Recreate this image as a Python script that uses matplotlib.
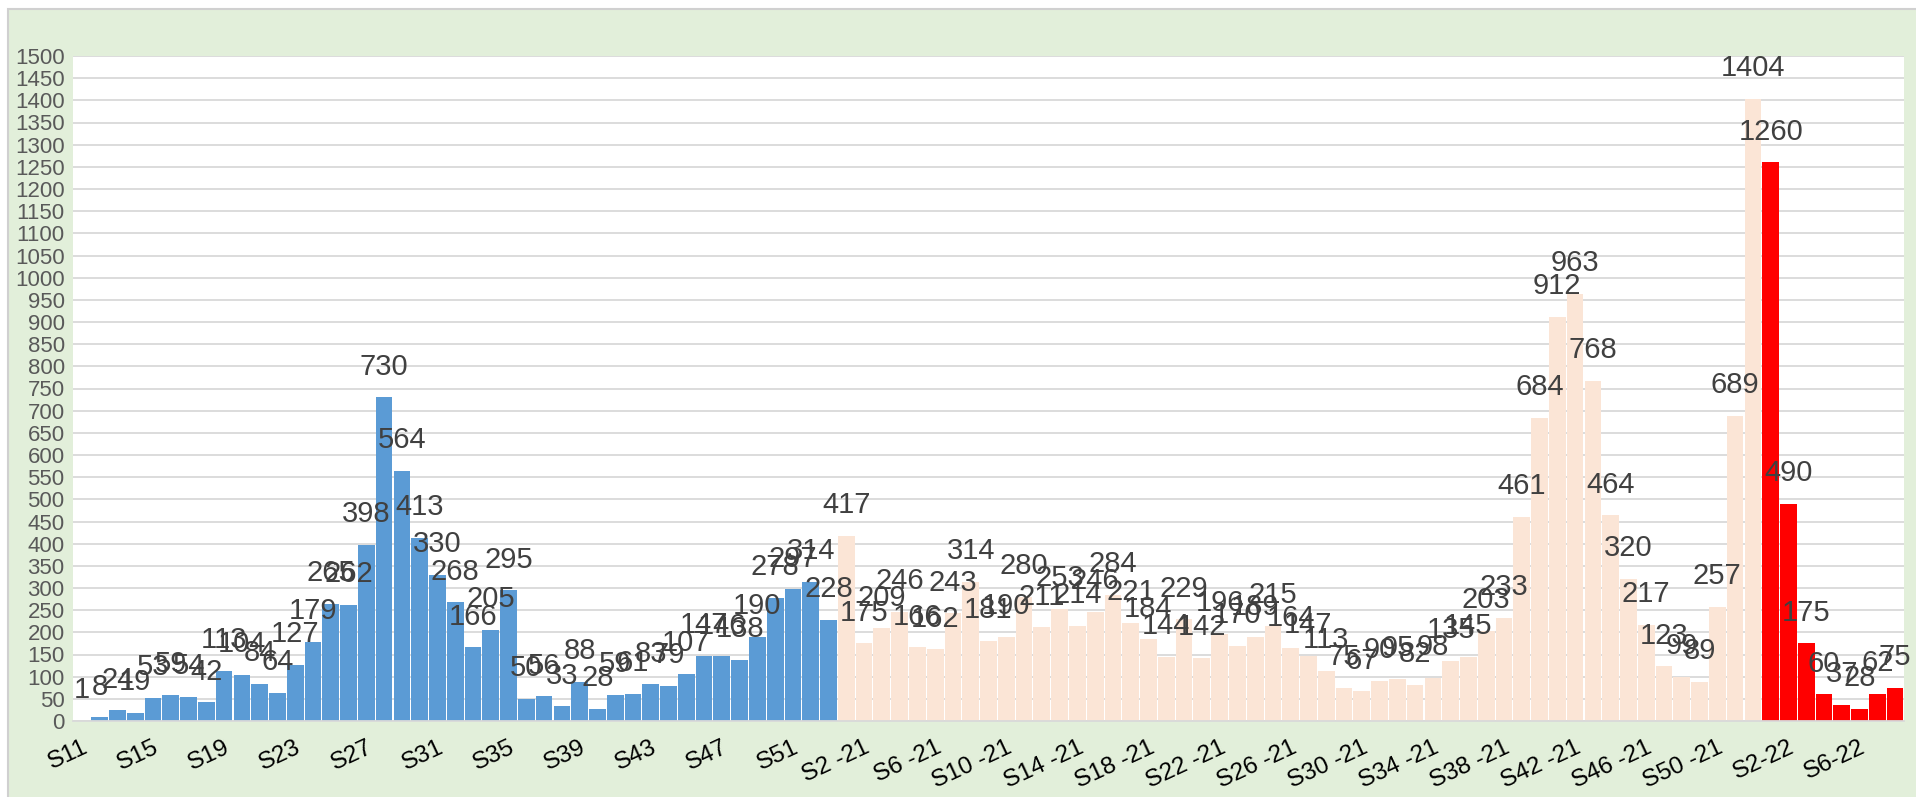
import matplotlib
matplotlib.use("Agg")
import matplotlib.pyplot as plt
from matplotlib.patches import Rectangle
import numpy as np

# weekly counts
weeks_2020 = ["S%d" % w for w in range(11, 54)]
vals_2020 = [1, 8, 24, 19, 53, 59, 54, 42, 113, 104, 84, 64, 127, 179, 265, 262,
             398, 730, 564, 413, 330, 268, 166, 205, 295, 50, 56, 33, 88, 28, 59, 61,
             83, 79, 107, 147, 146, 138, 190, 278, 297, 314, 228]

weeks_2021 = ["S%d -21" % w for w in range(1, 53)]
vals_2021 = [417, 175, 209, 246, 166, 162, 243, 314, 181, 190, 280, 211, 253, 214,
             246, 284, 221, 184, 144, 229, 142, 196, 170, 189, 215, 164, 147, 113,
             75, 67, 90, 95, 82, 98, 135, 145, 203, 233, 461, 684, 912, 963, 768,
             464, 320, 217, 123, 99, 89, 257, 689, 1404]

weeks_2022 = ["S%d-22" % w for w in range(1, 9)]
vals_2022 = [1260, 490, 175, 60, 37, 28, 62, 75]

col_2020 = "#5B9BD5"
col_2021 = "#FBE5D6"
col_2022 = "#FF0000"

labels = weeks_2020 + weeks_2021 + weeks_2022
values = vals_2020 + vals_2021 + vals_2022
colors = [col_2020] * len(vals_2020) + [col_2021] * len(vals_2021) + [col_2022] * len(vals_2022)

font = ["Liberation Sans Narrow", "Liberation Sans", "DejaVu Sans"]
plt.rcParams["font.family"] = font

W, H = 1916, 797
fig = plt.figure(figsize=(W / 100, H / 100), dpi=100)
fig.patch.set_facecolor("white")
fig.patches.append(Rectangle((8 / W, -0.1), 1.2, 1.1 - 9 / H, transform=fig.transFigure,
                             facecolor="#E2EFDA", edgecolor="#D0D0D0", lw=1.5, zorder=-5))

ax = fig.add_axes([73 / W, 1 - 721 / H, (1904 - 73) / W, (721 - 56) / H])
ax.set_zorder(2)
ax.set_facecolor("white")

x = np.arange(len(values))
ax.bar(x, values, width=0.94, color=colors, zorder=2)

for xi, v in zip(x, values):
    ax.annotate(str(v), (xi, v), xytext=(0, 12), textcoords="offset points",
                ha="center", va="bottom", fontsize=21, color="#404040", zorder=3)

ax.set_xlim(-0.5, len(values) - 0.5)
ax.set_ylim(0, 1500)
ax.set_yticks(np.arange(0, 1501, 50))
ax.yaxis.grid(True, color="#D9D9D9", lw=1.3, zorder=0)
ax.set_axisbelow(True)
ax.tick_params(axis="y", length=0, labelsize=16, labelcolor="#595959", pad=6)

tick_pos = x[::4]
ax.set_xticks(tick_pos)
ax.set_xticklabels([labels[i] for i in tick_pos], rotation=25, ha="right",
                   rotation_mode="anchor", fontsize=17.5, color="black")
ax.tick_params(axis="x", length=0, pad=11)

for s in ["left", "right", "top"]:
    ax.spines[s].set_visible(False)
ax.spines["bottom"].set_color("#D9D9D9")
ax.spines["bottom"].set_linewidth(1.3)

fig.savefig("out.png", dpi=100, facecolor=fig.get_facecolor())
